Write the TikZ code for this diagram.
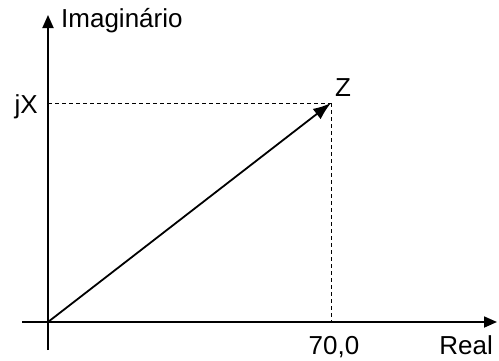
\documentclass[tikz,border=0pt]{standalone}
\usepackage{fontspec}
\setmainfont{Liberation Sans}
\usetikzlibrary{arrows.meta,positioning}
\begin{document}
\begin{tikzpicture}[
x=1pt, y=-1pt,
axis/.style={line width=1.8pt},
guide/.style={line width=0.9pt, dash pattern=on 4pt off 3pt},
lbl/.style={inner sep=0pt, font=\fontsize{26}{30}\selectfont},
>=Latex
]
\useasboundingbox (0,0) rectangle (499,360);
\coordinate (O) at (48,322);
\coordinate (xstart) at (22,322);
\coordinate (xend) at (497,322);
\coordinate (ystart) at (48,350);
\coordinate (yend) at (48,15);
\coordinate (Z) at (331,103);
\coordinate (jx) at (48,103);
\coordinate (re) at (331,322);

\draw[guide] (jx) -- (Z);
\draw[guide] (Z) -- (re);
\draw[axis, -{Triangle[length=13pt,width=11pt]}] (xstart) -- (xend);
\draw[axis, -{Triangle[length=13pt,width=11pt]}] (ystart) -- (yend);
\draw[axis, -{Latex[length=18pt,width=13pt]}] (O) -- (Z);

\node[lbl, anchor=base west] (imag) at (61,27) {Imaginário};
\node[lbl, anchor=base east] (jxlbl) at (38,113) {jX};
\node[lbl, anchor=base west] (zlbl) at (335,96) {Z};
\node[lbl, anchor=base] (re70) at (334,354) {70,0};
\node[lbl, anchor=base east] (real) at (493,354) {Real};
\end{tikzpicture}
\end{document}
